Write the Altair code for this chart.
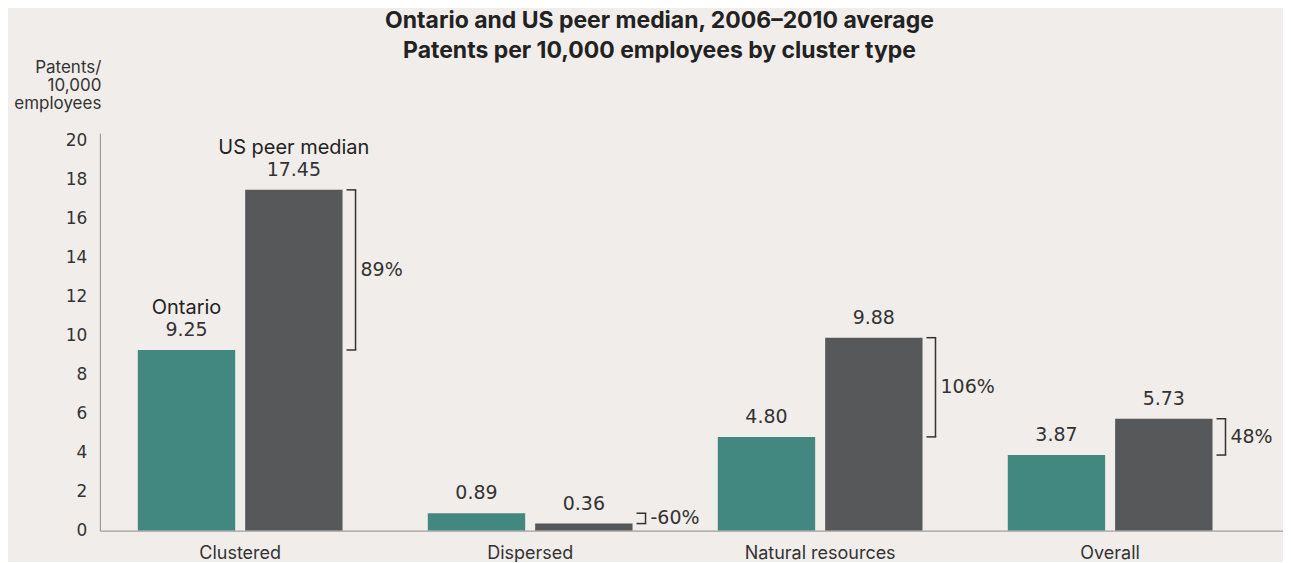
import altair as alt
import pandas as pd

categories = ["Clustered", "Dispersed", "Natural resources", "Overall"]
series = ["Ontario", "US peer median"]
ontario = [9.25, 0.89, 4.80, 3.87]
us_peer = [17.45, 0.36, 9.88, 5.73]
gap_labels = ["89%", "-60%", "106%", "48%"]
y_ticks = [0, 2, 4, 6, 8, 10, 12, 14, 16, 18, 20]

TEAL = "#428880"
GREY = "#57585a"
INK = "#333333"
BG = "#f1edea"
FONT = "Inter"
NUMFONT = "DejaVu Sans"

rows = []
for c, o, u in zip(categories, ontario, us_peer):
    rows.append({"category": c, "series": series[0], "value": o, "label": f"{o:.2f}"})
    rows.append({"category": c, "series": series[1], "value": u, "label": f"{u:.2f}"})
bars_df = pd.DataFrame(rows)
names_df = bars_df[bars_df["category"] == categories[0]]

br_df = pd.DataFrame({
    "category": categories,
    "lo": [min(o, u) for o, u in zip(ontario, us_peer)],
    "hi": [max(o, u) for o, u in zip(ontario, us_peer)],
    "label": gap_labels,
})
br_df["mid"] = (br_df["lo"] + br_df["hi"]) / 2

x_scale = alt.Scale(paddingInner=0.294, paddingOuter=0.187, align=0.35)
y_scale = alt.Scale(domain=[0, 20.35], nice=False, zero=True)

x_enc = alt.X(
    "category:N", sort=categories, scale=x_scale,
    axis=alt.Axis(title=None, labelAngle=0, ticks=False, domainColor="#8c8c8c",
                  labelPadding=14, labelFontSize=18, labelColor=INK,
                  labelFont=FONT),
)
xo_enc = alt.XOffset("series:N", sort=series,
                     scale=alt.Scale(paddingInner=0.093, paddingOuter=0))
y_axis = alt.Axis(values=y_ticks, grid=False, ticks=False,
                  domainColor="#8c8c8c", labelOverlap=False,
                  labelPadding=13, labelFontSize=17, labelColor=INK, labelFont=NUMFONT,
                  title=["Patents/", "10,000", "employees"], titleAngle=0,
                  titleAlign="right", titleBaseline="top", titleX=1, titleY=-74,
                  titleFontSize=17, titleFontWeight="normal", titleLineHeight=18,
                  titleColor=INK, titleFont=FONT)


def y_enc(field):
    return alt.Y(field, type="quantitative", scale=y_scale, axis=y_axis)


color_enc = alt.Color("series:N", sort=series,
                      scale=alt.Scale(domain=series, range=[TEAL, GREY]), legend=None)

bars = alt.Chart(bars_df).mark_bar().encode(
    x=x_enc, xOffset=xo_enc, y=y_enc("value"), color=color_enc)

values = alt.Chart(bars_df).mark_text(
    dy=-14, baseline="alphabetic", fontSize=19, font=NUMFONT, color=INK
).encode(x=alt.X("category:N", sort=categories), xOffset=alt.XOffset("series:N", sort=series),
         y=y_enc("value"), text="label:N")

names = alt.Chart(names_df).mark_text(
    dy=-36, baseline="alphabetic", fontSize=20, font=FONT, color="#222222"
).encode(x=alt.X("category:N", sort=categories), xOffset=alt.XOffset("series:N", sort=series),
         y=y_enc("value"), text="series:N")

vert = alt.Chart(br_df).mark_rule(color=INK, strokeWidth=1.5, xOffset=13).encode(
    x=alt.X("category:N", sort=categories, bandPosition=1),
    y=y_enc("lo"), y2="hi:Q")
tick_lo = alt.Chart(br_df).mark_rule(color=INK, strokeWidth=1.5, xOffset=4, x2Offset=13.75).encode(
    x=alt.X("category:N", sort=categories, bandPosition=1),
    x2=alt.X2("category", bandPosition=1),
    y=y_enc("lo"))
tick_hi = alt.Chart(br_df).mark_rule(color=INK, strokeWidth=1.5, xOffset=4, x2Offset=13.75).encode(
    x=alt.X("category:N", sort=categories, bandPosition=1),
    x2=alt.X2("category", bandPosition=1),
    y=y_enc("hi"))
pct = alt.Chart(br_df).mark_text(
    align="left", baseline="middle", dx=18, fontSize=19, font=NUMFONT, color=INK
).encode(x=alt.X("category:N", sort=categories, bandPosition=1),
         y=y_enc("mid"), text="label:N")

chart = alt.layer(bars, values, names, vert, tick_lo, tick_hi, pct).properties(
    width=1185, height=398,
    title=alt.TitleParams(
        text="Ontario and US peer median, 2006\u20132010 average",
        subtitle="Patents per 10,000 employees by cluster type",
        fontSize=23, fontWeight="bold", font=FONT, color="#222222",
        subtitleFontSize=23, subtitleFontWeight="bold", subtitleFont=FONT,
        subtitleColor="#222222", subtitlePadding=7, lineHeight=23,
        subtitleLineHeight=23,
        anchor="middle", frame="group", dx=-32, offset=-5),
    autosize=alt.AutoSizeParams(type="none"),
    padding={"left": 92, "top": 125, "right": 0, "bottom": 31},
    background=BG,
).configure_view(stroke=None).configure_axisY(labelOverlap=False)

chart.save("out.html", embed_options={"renderer": "svg", "actions": False})
